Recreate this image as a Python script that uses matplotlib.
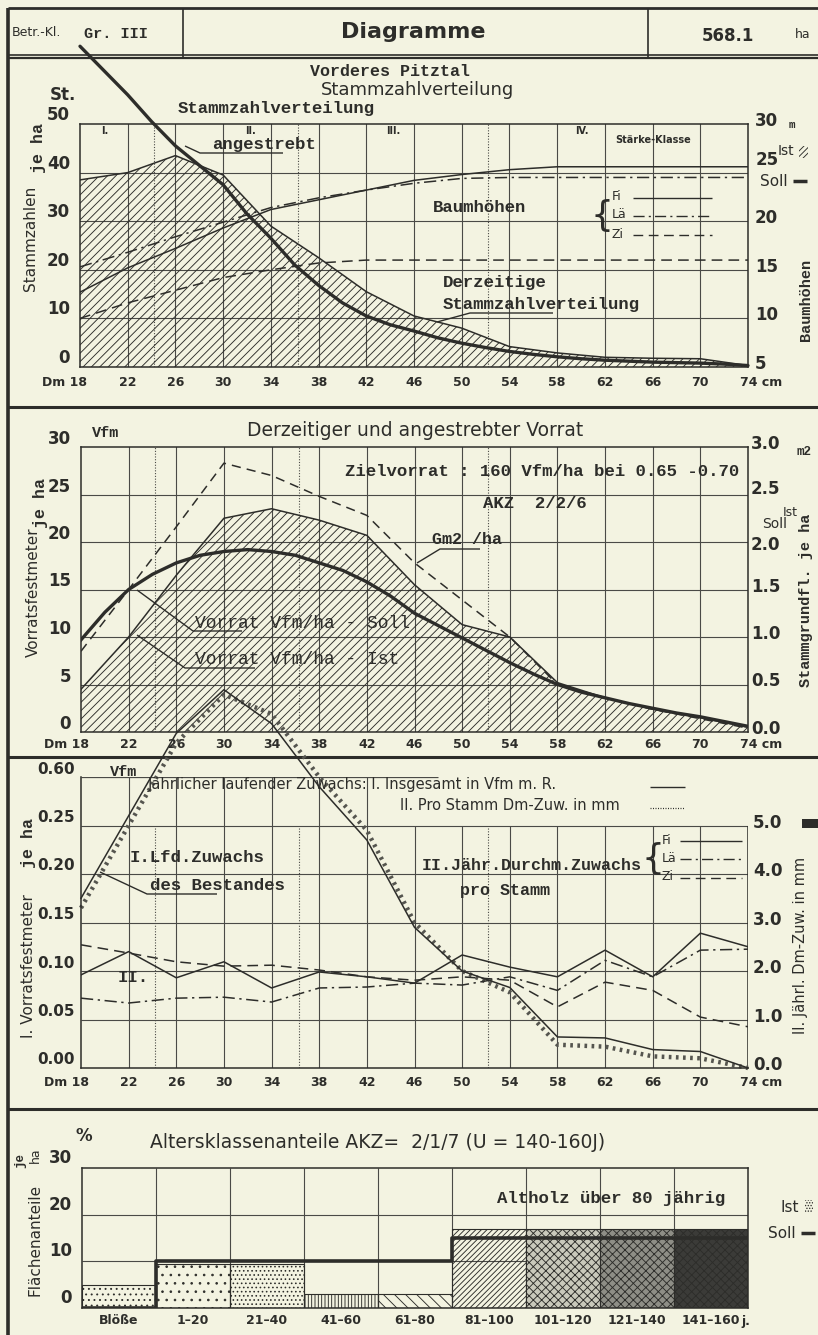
import matplotlib.pyplot as plt
from matplotlib.transforms import offset_copy
from matplotlib.patches import Rectangle

plt.rcParams['hatch.linewidth'] = 0.65
plt.rcParams['hatch.color'] = '#2d2d2a'

# ---------------- data ----------------
dm = [18, 22, 26, 30, 34, 38, 42, 46, 50, 54, 58, 62, 66, 70, 74]
dm_fein = list(range(18, 75, 2))
staerke_grenzen = [24.2, 36.3, 52.2]

# Stammzahlverteilung (St. je ha)
stz_ist = [38.5, 40, 43.5, 39.5, 29, 22.5, 15.5, 10.5, 8, 4.2, 2.9, 2.0, 1.8, 1.7, 0.3]
stz_soll = [66, 61, 56, 50.5, 45.5, 41.5, 37.5, 31.5, 26.5, 21, 16.8, 13.2, 10.5, 8.7, 7.4,
            6.0, 4.9, 4.0, 3.2, 2.6, 2.1, 1.7, 1.4, 1.2, 1.0, 0.9, 0.8, 0.6, 0.3]
# Baumhoehen (m)
h_fi = [12.7, 15.2, 17.2, 19.3, 21.2, 22.2, 23.2, 24.2, 24.8, 25.3, 25.6, 25.6, 25.6, 25.6, 25.6]
h_lae = [15.3, 16.8, 18.4, 19.9, 21.4, 22.4, 23.2, 23.9, 24.4, 24.5, 24.5, 24.5, 24.5, 24.5, 24.5]
h_zi = [10.0, 11.6, 12.9, 14.2, 15.0, 15.7, 16.0, 16.0, 16.0, 16.0, 16.0, 16.0, 16.0, 16.0, 16.0]

# Vorrat (Vfm je ha) und Stammgrundflaeche (m2 je ha)
vorrat_ist = [4.5, 10, 16.5, 22.5, 23.5, 22.3, 20.7, 15.5, 11.3, 10, 5.2, 3.6, 2.4, 1.5, 0.5]
vorrat_soll = [9.7, 12.6, 15.0, 16.6, 17.8, 18.6, 19.0, 19.2, 19.0, 18.6, 17.8, 17.0, 15.8, 14.3, 12.5,
               11.2, 9.9, 8.6, 7.3, 6.1, 5.0, 4.2, 3.6, 3.0, 2.5, 2.0, 1.6, 1.1, 0.6]
gm2_ha = [0.85, 1.5, 2.16, 2.83, 2.7, 2.48, 2.28, 1.78, 1.39, 1.0, 0.5, 0.36, 0.24, 0.14, 0.04]

# Zuwachs
zuw_lfd = [0.175, 0.26, 0.345, 0.39, 0.355, 0.29, 0.235, 0.145, 0.10, 0.083, 0.032, 0.031, 0.019, 0.017, 0.0]
zuw_band = [0.165, 0.25, 0.335, 0.385, 0.365, 0.30, 0.245, 0.15, 0.10, 0.078, 0.024, 0.022, 0.012, 0.010, 0.0]
zuw_fi = [1.92, 2.4, 1.86, 2.19, 1.65, 1.98, 1.88, 1.75, 2.33, 2.08, 1.88, 2.43, 1.88, 2.78, 2.5]
zuw_lae = [1.44, 1.34, 1.44, 1.46, 1.36, 1.65, 1.67, 1.75, 1.71, 1.88, 1.6, 2.22, 1.88, 2.43, 2.45]
zuw_zi = [2.54, 2.37, 2.19, 2.1, 2.12, 2.02, 1.88, 1.81, 1.88, 1.81, 1.26, 1.77, 1.6, 1.05, 0.85]

# Altersklassen (% Flaechenanteil)
ak_klassen = ['Blöße', '1–20', '21–40', '41–60', '61–80', '81–100', '101–120', '121–140', '141–160']
ak_ist = [5, 9.5, 9.5, 3, 3, 17, 17, 17, 17]
ak_soll = [0, 10, 10, 10, 10, 15, 15, 15, 15]

# ---------------- style ----------------
W, H = 818, 1335
PAPER = '#f3f3e1'
INK = '#2d2d2a'
GRID = '#4a4a46'
SANS = 'DejaVu Sans'
MONO = 'Liberation Mono'
LS_LAE = (0, (8, 3, 1.5, 3))
LS_ZI = (0, (7, 4))

fig = plt.figure(figsize=(W / 100, H / 100), dpi=100, facecolor=PAPER)


def px_axes(x1, y1, x2, y2, z=1):
    ax = fig.add_axes([x1 / W, 1 - y2 / H, (x2 - x1) / W, (y2 - y1) / H], zorder=z)
    ax.set_facecolor('none')
    return ax


def layer(z):
    ax = px_axes(0, 0, W, H, z)
    ax.set_xlim(0, W)
    ax.set_ylim(H, 0)
    ax.axis('off')
    return ax


back = layer(0)
front = layer(20)


def txt(x, y, s, size=10, font=SANS, weight='normal', ha='left', rot=0, **kw):
    front.text(x, y, s, fontsize=size, family=font, fontweight=weight, ha=ha, va='center',
               rotation=rot, color=INK, **kw)


def seg(pts, lw=1.0, ax=None, **kw):
    ax = ax or front
    xs, ys = zip(*pts)
    ax.plot(xs, ys, color=INK, lw=lw, solid_capstyle='butt', **kw)


def ylab(ax, vals, labels, side='left', dx=9, dy=7, size=11, weight='bold', font=SANS):
    base = ax.get_yaxis_transform()
    for v, s in zip(vals, labels):
        if side == 'left':
            tr = offset_copy(base, fig=fig, x=-dx, y=dy, units='dots')
            ax.text(0, v, s, transform=tr, ha='right', va='center', fontsize=size,
                    fontweight=weight, family=font, color=INK)
        else:
            tr = offset_copy(base, fig=fig, x=dx, y=dy, units='dots')
            ax.text(1, v, s, transform=tr, ha='left', va='center', fontsize=size,
                    fontweight=weight, family=font, color=INK)


def dm_lab(ax, dy):
    base = ax.get_xaxis_transform()
    for d in dm:
        s, ox = str(d), 0
        if d == 18:
            s, ox = 'Dm 18', -15
        elif d == 74:
            s, ox = '74 cm', 13
        tr = offset_copy(base, fig=fig, x=ox, y=-dy, units='dots')
        ax.text(d, 0, s, transform=tr, ha='center', va='center', fontsize=9,
                fontweight='bold', family=SANS, color=INK)


def dm_frame(ax, ymax, ystep):
    ax.set_xlim(18, 74)
    ax.set_ylim(0, ymax)
    ax.set_xticks([])
    ax.set_yticks([])
    for s in ax.spines.values():
        s.set_color(INK)
        s.set_linewidth(1.1)
    for d in dm[1:-1]:
        ax.axvline(d, color=GRID, lw=0.8, zorder=0)
    v = ystep
    while v < ymax - 1e-9:
        ax.axhline(v, color=GRID, lw=0.8, zorder=0)
        v += ystep
    for g in staerke_grenzen:
        ax.axvline(g, color=GRID, lw=0.8, ls=(0, (1, 1.5)), zorder=0)


# ---------------- page frame ----------------
seg([(8, 8), (818, 8)], lw=2.0, ax=back)
seg([(8, 8), (8, 1335)], lw=2.6, ax=back)
seg([(8, 55), (818, 55)], lw=1.2, ax=back)
seg([(8, 58), (818, 58)], lw=1.6, ax=back)
seg([(183, 8), (183, 57)], lw=1.2, ax=back)
seg([(648, 8), (648, 57)], lw=1.2, ax=back)
for yy in (407, 757, 1109):
    seg([(8, yy), (818, yy)], lw=2.2, ax=back)

txt(12, 33, 'Betr.-Kl.', 9)
txt(84, 34, 'Gr. III', 11, MONO, 'bold')
txt(413, 32, 'Diagramme', 16, SANS, 'bold', ha='center')
txt(728, 36, '568.1', 12, SANS, 'bold', ha='center')
txt(795, 34, 'ha', 9)

# ---------------- panel 1: Stammzahlverteilung ----------------
ax1 = px_axes(80, 124, 748, 367, 2)
dm_frame(ax1, 50, 10)
ax1.fill_between(dm, stz_ist, 0, facecolor='none', edgecolor=INK, hatch='////', lw=0, zorder=1)
ax1.plot(dm, stz_ist, color=INK, lw=1.1, zorder=3)
ax1.plot(dm_fein, stz_soll, color=INK, lw=2.4, zorder=4, clip_on=False, solid_capstyle='round')
t1 = ax1.twinx()
t1.set_ylim(5, 30)
t1.set_yticks([])
t1.patch.set_visible(False)
for s in t1.spines.values():
    s.set_visible(False)
t1.plot(dm, h_fi, color=INK, lw=1.1)
t1.plot(dm, h_lae, color=INK, lw=1.1, ls=LS_LAE)
t1.plot(dm, h_zi, color=INK, lw=1.1, ls=LS_ZI)

ylab(ax1, [0, 10, 20, 30, 40, 50], ['0', '10', '20', '30', '40', '50'], dx=10, dy=9, size=12)
ylab(t1, [30, 20, 15, 10, 5], ['30', '20', '15', '10', '5'], side='right', dx=7, dy=3, size=12)
ylab(t1, [25], ['25'], side='right', dx=8, dy=13, size=12)
dm_lab(ax1, 16)

txt(390, 71, 'Vorderes Pitztal', 12, MONO, 'bold', ha='center')
txt(418, 90, 'Stammzahlverteilung', 13, ha='center')
txt(178, 109, 'Stammzahlverteilung', 12.5, MONO, 'bold')
txt(212, 145, 'angestrebt', 12.5, MONO, 'bold')
seg([(185, 146), (200, 153), (283, 153)])
txt(50, 95, 'St.', 12, SANS, 'bold')
txt(38, 148, 'je ha', 12, MONO, 'bold', ha='center', rot=90)
txt(31, 238, 'Stammzahlen', 11, ha='center', rot=90)
for x, s in [(105, 'I.'), (250, 'II.'), (393, 'III.'), (582, 'IV.')]:
    txt(x, 131, s, 7, SANS, 'bold', ha='center')
txt(653, 140, 'Stärke-Klasse', 7, SANS, 'bold', ha='center')
txt(433, 208, 'Baumhöhen', 12.5, MONO, 'bold')
txt(443, 283, 'Derzeitige', 12.5, MONO, 'bold')
txt(443, 305, 'Stammzahlverteilung', 12.5, MONO, 'bold')
seg([(437, 322), (470, 313), (553, 313)])
txt(602, 216, '{', 26, ha='center')
txt(612, 197, 'Fi', 9)
txt(612, 215, 'Lä', 9)
txt(612, 234, 'Zi', 9)
seg([(633, 198), (712, 198)])
seg([(633, 216), (712, 216)], ls=LS_LAE)
seg([(633, 235), (712, 235)], ls=LS_ZI)
txt(789, 125, 'm', 8, MONO, 'bold')
txt(778, 151, 'Ist', 10)
front.add_patch(Rectangle((799, 146), 9, 12, facecolor='none', edgecolor=INK, hatch='//////', lw=0))
txt(760, 181, 'Soll', 11)
seg([(793, 181), (807, 181)], lw=2.5)
txt(806, 300, 'Baumhöhen', 11, MONO, 'bold', ha='center', rot=90)

# ---------------- panel 2: Vorrat ----------------
ax2 = px_axes(81, 447, 748, 732, 2)
dm_frame(ax2, 30, 5)
ax2.fill_between(dm, vorrat_ist, 0, facecolor='none', edgecolor=INK, hatch='////', lw=0, zorder=1)
ax2.plot(dm, vorrat_ist, color=INK, lw=1.1, zorder=3)
ax2.plot(dm_fein, vorrat_soll, color=INK, lw=2.4, zorder=4)
t2 = ax2.twinx()
t2.set_ylim(0, 3)
t2.set_yticks([])
t2.patch.set_visible(False)
for s in t2.spines.values():
    s.set_visible(False)
t2.plot(dm, gm2_ha, color=INK, lw=1.1, ls=(0, (6, 4)))

ylab(ax2, [0, 5, 10, 15, 20, 25, 30], ['0', '5', '10', '15', '20', '25', '30'], dx=10, dy=8, size=12)
ylab(t2, [3.0, 1.5, 1.0, 0.5, 0.0], ['3.0', '1.5', '1.0', '0.5', '0.0'],
     side='right', dx=3, dy=3, size=12)
ylab(t2, [2.5], ['2.5'], side='right', dx=3, dy=6, size=12)
ylab(t2, [2.0], ['2.0'], side='right', dx=3, dy=-3, size=12)
dm_lab(ax2, 12)

txt(92, 433, 'Vfm', 11, MONO, 'bold')
txt(415, 430, 'Derzeitiger und angestrebter Vorrat', 13.5, ha='center')
txt(345, 472, 'Zielvorrat : 160 Vfm/ha bei 0.65 -0.70', 12.5, MONO, 'bold')
txt(483, 504, 'AKZ  2/2/6', 12.5, MONO, 'bold')
txt(432, 540, 'Gm2 /ha', 12, MONO, 'bold')
seg([(417, 563), (440, 549), (480, 549)])
txt(195, 623, 'Vorrat Vfm/ha - Soll', 13, MONO)
seg([(137, 590), (193, 631), (242, 631)])
txt(195, 660, 'Vorrat Vfm/ha - Ist', 13, MONO)
seg([(137, 635), (185, 668), (255, 668)])
txt(33, 592, 'Vorratsfestmeter', 11, ha='center', rot=90)
txt(40, 503, 'je ha', 12, MONO, 'bold', ha='center', rot=90)
txt(797, 452, 'm2', 9, MONO, 'bold')
txt(783, 512, 'Ist', 9)
txt(762, 524, 'Soll', 10)
txt(806, 600, 'Stammgrundfl. je ha', 11, MONO, 'bold', ha='center', rot=90)

# ---------------- panel 3: Zuwachs ----------------
ax3 = px_axes(81, 777, 748, 1068, 2)
ax3.set_xlim(18, 74)
ax3.set_ylim(0, 0.30)
ax3.set_xticks([])
ax3.set_yticks([])
for k in ('top', 'right'):
    ax3.spines[k].set_visible(False)
for k in ('left', 'bottom'):
    ax3.spines[k].set_color(INK)
    ax3.spines[k].set_linewidth(1.1)
ax3.vlines(74, 0, 0.25, color=INK, lw=1.1)
ax3.hlines([0.05, 0.10, 0.15, 0.20, 0.25], 18, 74, color=GRID, lw=0.8, zorder=0)
ax3.hlines(0.30, 18, 48, color=GRID, lw=0.9, zorder=0)
ax3.vlines([d for d in dm[1:-1] if d <= 42], 0, 0.30, color=GRID, lw=0.8, zorder=0)
ax3.vlines([d for d in dm[1:-1] if d > 42], 0, 0.25, color=GRID, lw=0.8, zorder=0)
ax3.vlines(staerke_grenzen, 0, 0.25, color=GRID, lw=0.8, ls=(0, (1, 1.5)), zorder=0)
ax3.plot(dm, zuw_band, color='#55554f', lw=3.2, ls=(0, (0.6, 1.0)), clip_on=False, zorder=2)
ax3.plot(dm, zuw_lfd, color=INK, lw=1.1, clip_on=False, zorder=3)
t3 = ax3.twinx()
t3.set_ylim(0, 6)
t3.set_yticks([])
t3.patch.set_visible(False)
for s in t3.spines.values():
    s.set_visible(False)
t3.plot(dm, zuw_fi, color=INK, lw=1.1)
t3.plot(dm, zuw_lae, color=INK, lw=1.1, ls=LS_LAE)
t3.plot(dm, zuw_zi, color=INK, lw=1.1, ls=LS_ZI)

ylab(ax3, [0, 0.05, 0.10, 0.15, 0.20, 0.25, 0.30],
     ['0.00', '0.05', '0.10', '0.15', '0.20', '0.25', '0.60'], dx=6, dy=8, size=11)
ylab(t3, [0, 1, 2, 3, 4, 5], ['0.0', '1.0', '2.0', '3.0', '4.0', '5.0'], side='right', dx=5, dy=3, size=12)
dm_lab(ax3, 14)

txt(110, 772, 'Vfm', 11, MONO, 'bold')
txt(148, 784, 'Jährlicher laufender Zuwachs: I. Insgesamt in Vfm m. R.', 10.5)
txt(400, 806, 'II. Pro Stamm Dm-Zuw. in mm', 10.5)
seg([(650, 787), (685, 787)])
seg([(650, 808), (685, 808)], lw=0.9, ls=(0, (0.8, 1.2)))
txt(130, 858, 'I.Lfd.Zuwachs', 12.5, MONO, 'bold')
txt(150, 885, 'des Bestandes', 12.5, MONO, 'bold')
seg([(100, 872), (147, 894), (217, 894)])
txt(118, 977, 'II.', 12.5, MONO, 'bold')
txt(422, 865, 'II.Jähr.Durchm.Zuwachs', 12, MONO, 'bold')
txt(460, 890, 'pro Stamm', 12, MONO, 'bold')
txt(653, 859, '{', 26, ha='center')
txt(662, 840, 'Fi', 9)
txt(662, 858, 'Lä', 9)
txt(662, 877, 'Zi', 9)
seg([(680, 841), (742, 841)])
seg([(680, 859), (742, 859)], ls=LS_LAE)
seg([(680, 878), (742, 878)], ls=LS_ZI)
front.add_patch(Rectangle((802, 819), 16, 9, facecolor=INK, lw=0))
txt(800, 945, 'II. Jährl. Dm-Zuw. in mm', 10.5, ha='center', rot=90)
txt(29, 966, 'I. Vorratsfestmeter', 11, ha='center', rot=90)
txt(29, 843, 'je ha', 12, MONO, 'bold', ha='center', rot=90)

# ---------------- panel 4: Altersklassen ----------------
ax4 = px_axes(82, 1168, 748, 1308, 2)
ax4.set_xlim(0, len(ak_klassen))
ax4.set_ylim(0, 30)
ax4.set_xticks([])
ax4.set_yticks([])
for s in ax4.spines.values():
    s.set_color(INK)
    s.set_linewidth(1.1)
ax4.hlines([10, 20], 0, len(ak_klassen), color=GRID, lw=0.8, zorder=0)
ax4.vlines(range(1, len(ak_klassen)), 0, 30, color=GRID, lw=0.8, zorder=0)
muster = [('...', 'none'), ('..', 'none'), ('....', 'none'), ('|||||', 'none'), ('\\\\\\', 'none'),
          ('//////', 'none'), ('xxxx', '#c9c9bb'), ('xxxx', '#8e8e86'), ('xxxx', '#3b3b38')]
bars = ax4.bar(range(len(ak_klassen)), ak_ist, width=1, align='edge', edgecolor=INK, lw=0.8, zorder=1)
for b, (h, fc) in zip(bars, muster):
    b.set_hatch(h)
    b.set_facecolor(fc)
stufen = list(range(len(ak_klassen) + 1))
ax4.step(stufen, ak_soll + [ak_soll[-1]], where='post', color=INK, lw=2.6, zorder=3)

ylab(ax4, [0, 10, 20, 30], ['0', '10', '20', '30'], dx=10, dy=10, size=12)
base = ax4.get_xaxis_transform()
for i, s in enumerate(ak_klassen):
    tr = offset_copy(base, fig=fig, y=-13, units='dots')
    ax4.text(i + 0.5, 0, s, transform=tr, ha='center', va='center', fontsize=9,
             fontweight='bold', family=SANS, color=INK)
txt(741, 1321, 'j.', 9, SANS, 'bold')

txt(75, 1136, '%', 12, SANS, 'bold')
txt(150, 1142, 'Altersklassenanteile AKZ=  2/1/7 (U = 140-160J)', 13.5)
txt(35, 1240, 'Flächenanteile', 11, ha='center', rot=90)
txt(35, 1155, 'ha', 9, ha='center', rot=90)
txt(20, 1160, 'je', 9, MONO, 'bold', ha='center', rot=90)
txt(497, 1199, 'Altholz über 80 jährig', 12.5, MONO, 'bold')
txt(781, 1208, 'Ist', 11)
front.add_patch(Rectangle((805, 1200), 8, 13, facecolor='none', edgecolor=INK, hatch='......', lw=0))
txt(768, 1233, 'Soll', 11)
seg([(801, 1233), (815, 1233)], lw=2.5)

fig.savefig('out.png', dpi=100, facecolor=PAPER)
